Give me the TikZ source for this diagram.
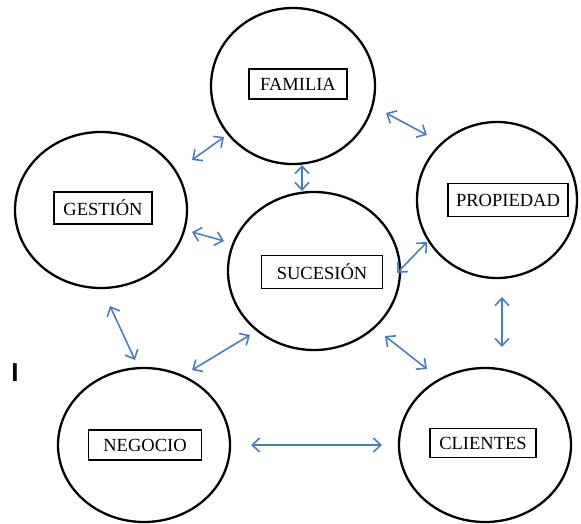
\documentclass[tikz,border=0pt]{standalone}
\usepackage{fontspec}
\setmainfont{Liberation Serif}
\newfontfamily\barfont{Liberation Sans}
\usetikzlibrary{shapes.geometric,arrows.meta}
\definecolor{linkblue}{RGB}{74,126,187}
\tikzset{
  bubble/.style={draw=black, line width=2.3pt, ellipse, inner sep=0pt},
  tag/.style={draw=black, line width=1.1pt, rectangle, inner sep=0pt,
    font=\fontsize{18.5}{20}\selectfont},
  link/.style={draw=linkblue, line width=1.6pt,
    {Straight Barb[length=7.5pt,width=14pt]}-{Straight Barb[length=7.5pt,width=14pt]}},
}
\begin{document}
\begin{tikzpicture}[x=1pt,y=-1pt]
\useasboundingbox (0,0) rectangle (581,523);

% circles
\node[bubble, minimum width=164, minimum height=156] (fam) at (293,86) {};
\node[bubble, minimum width=172, minimum height=156] (ges) at (101,210) {};
\node[bubble, minimum width=172, minimum height=158] (suc) at (314,271) {};
\node[bubble, minimum width=160, minimum height=156] (pro) at (497,200) {};
\node[bubble, minimum width=172, minimum height=154] (neg) at (144,445) {};
\node[bubble, minimum width=172, minimum height=154] (cli) at (485,445) {};

% boxed labels
\node[tag, minimum width=98, minimum height=30] (famt) at (298,84) {FAMILIA};
\node[tag, minimum width=98, minimum height=32] (gest) at (103,208) {GESTIÓN};
\node[tag, minimum width=121, minimum height=33] (suct) at (322,272) {SUCESIÓN};
\node[tag, minimum width=120, minimum height=33] (prot) at (508,200) {PROPIEDAD};
\node[tag, minimum width=113, minimum height=30] (negt) at (145,445) {NEGOCIO};
\node[tag, minimum width=106, minimum height=29] (clit) at (483,443) {CLIENTES};

% stray mark at the left
\node[font=\barfont\bfseries\fontsize{26}{28}\selectfont, inner sep=0pt] (mark) at (15,373) {I};

% arrow end points
\coordinate (gf1) at (192,160); \coordinate (gf2) at (224,137);
\coordinate (gs1) at (192,232); \coordinate (gs2) at (224,241);
\coordinate (fs1) at (302,165); \coordinate (fs2) at (302,191);
\coordinate (fp1) at (386,113); \coordinate (fp2) at (427,135);
\coordinate (sp1) at (397,273); \coordinate (sp2) at (427,242);
\coordinate (pc1) at (502,297); \coordinate (pc2) at (502,347);
\coordinate (gn1) at (110,306); \coordinate (gn2) at (135,360);
\coordinate (sn1) at (192,370); \coordinate (sn2) at (250,335);
\coordinate (sc1) at (385,336); \coordinate (sc2) at (427,369);
\coordinate (nc1) at (251,445); \coordinate (nc2) at (382,445);

% connectors
\draw[link] (gf1) -- (gf2);
\draw[link] (gs1) -- (gs2);
\draw[link] (fs1) -- (fs2);
\draw[link] (fp1) -- (fp2);
\draw[link] (sp1) -- (sp2);
\draw[link] (pc1) -- (pc2);
\draw[link] (gn1) -- (gn2);
\draw[link] (sn1) -- (sn2);
\draw[link] (sc1) -- (sc2);
\draw[link] (nc1) -- (nc2);
\end{tikzpicture}
\end{document}
